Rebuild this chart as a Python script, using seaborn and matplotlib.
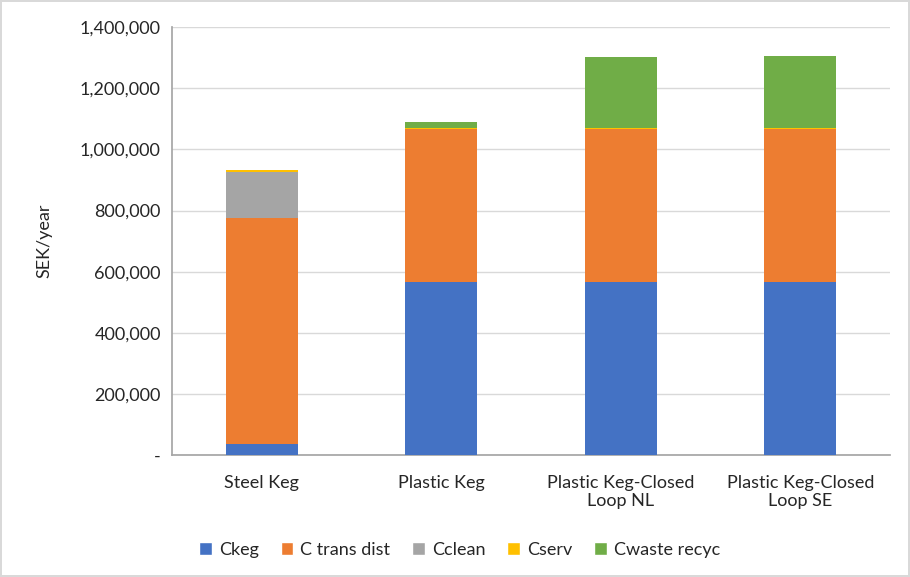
import matplotlib
matplotlib.use("Agg")
import matplotlib.pyplot as plt
from matplotlib.ticker import FuncFormatter
from matplotlib.patches import Patch
import seaborn as sns
import pandas as pd

categories = ["Steel Keg", "Plastic Keg", "Plastic Keg-Closed\nLoop NL", "Plastic Keg-Closed\nLoop SE"]
series_names = ["Ckeg", "C trans dist", "Cclean", "Cserv", "Cwaste recyc"]
ckeg = [36000, 566000, 566000, 566000]
c_trans_dist = [741000, 502000, 502000, 502000]
cclean = [150000, 0, 0, 0]
cserv = [5000, 2000, 2000, 2000]
cwaste_recyc = [0, 19000, 231000, 235000]
colors = ["#4472C4", "#ED7D31", "#A5A5A5", "#FFC000", "#70AD47"]
y_ticks = [0, 200000, 400000, 600000, 800000, 1000000, 1200000, 1400000]


def fmt(v, pos):
    return "-" if v == 0 else f"{int(v):,}"


df = pd.DataFrame({"category": categories, "Ckeg": ckeg, "C trans dist": c_trans_dist,
                   "Cclean": cclean, "Cserv": cserv, "Cwaste recyc": cwaste_recyc})
cum = df[series_names].cumsum(axis=1)

sns.set_theme(style="white")
plt.rcParams["font.family"] = ["Lato", "DejaVu Sans"]
fs = 13

fig = plt.figure(figsize=(9.1, 5.77), dpi=100)
fig.patch.set_edgecolor("#d9d9d9")
fig.patch.set_linewidth(1.5)
ax = fig.add_axes([0.189, 0.211, 0.789, 0.742])

# draw from the top segment down so each layer covers the one above it
for name, col in reversed(list(zip(series_names, colors))):
    sns.barplot(x=df["category"], y=cum[name], color=col, width=0.4,
                saturation=1, linewidth=0, edgecolor="none", ax=ax, zorder=3)

ax.set_ylim(0, 1400000)
ax.set_yticks(y_ticks)
ax.yaxis.set_major_formatter(FuncFormatter(fmt))
ax.grid(axis="y", color="#d9d9d9", linewidth=1, zorder=0)
ax.set_axisbelow(True)
for s in ["top", "right"]:
    ax.spines[s].set_visible(False)
ax.spines["left"].set_color("#a6a6a6")
ax.spines["bottom"].set_color("#a6a6a6")
ax.tick_params(axis="y", labelsize=fs, colors="#262626", length=0, pad=8)
ax.tick_params(axis="x", labelsize=fs, colors="#262626", length=0, pad=14)
ax.set_xlabel("")
ax.set_ylabel("SEK/year", fontsize=fs, color="#262626", labelpad=20)

handles = [Patch(facecolor=c, label=n) for n, c in zip(series_names, colors)]
fig.legend(handles=handles, loc="center", bbox_to_anchor=(0.505, 0.047), ncol=5,
           frameon=False, fontsize=fs, handlelength=0.7, handleheight=0.7,
           handletextpad=0.4, columnspacing=1.2)

fig.savefig("out.png", dpi=100)
